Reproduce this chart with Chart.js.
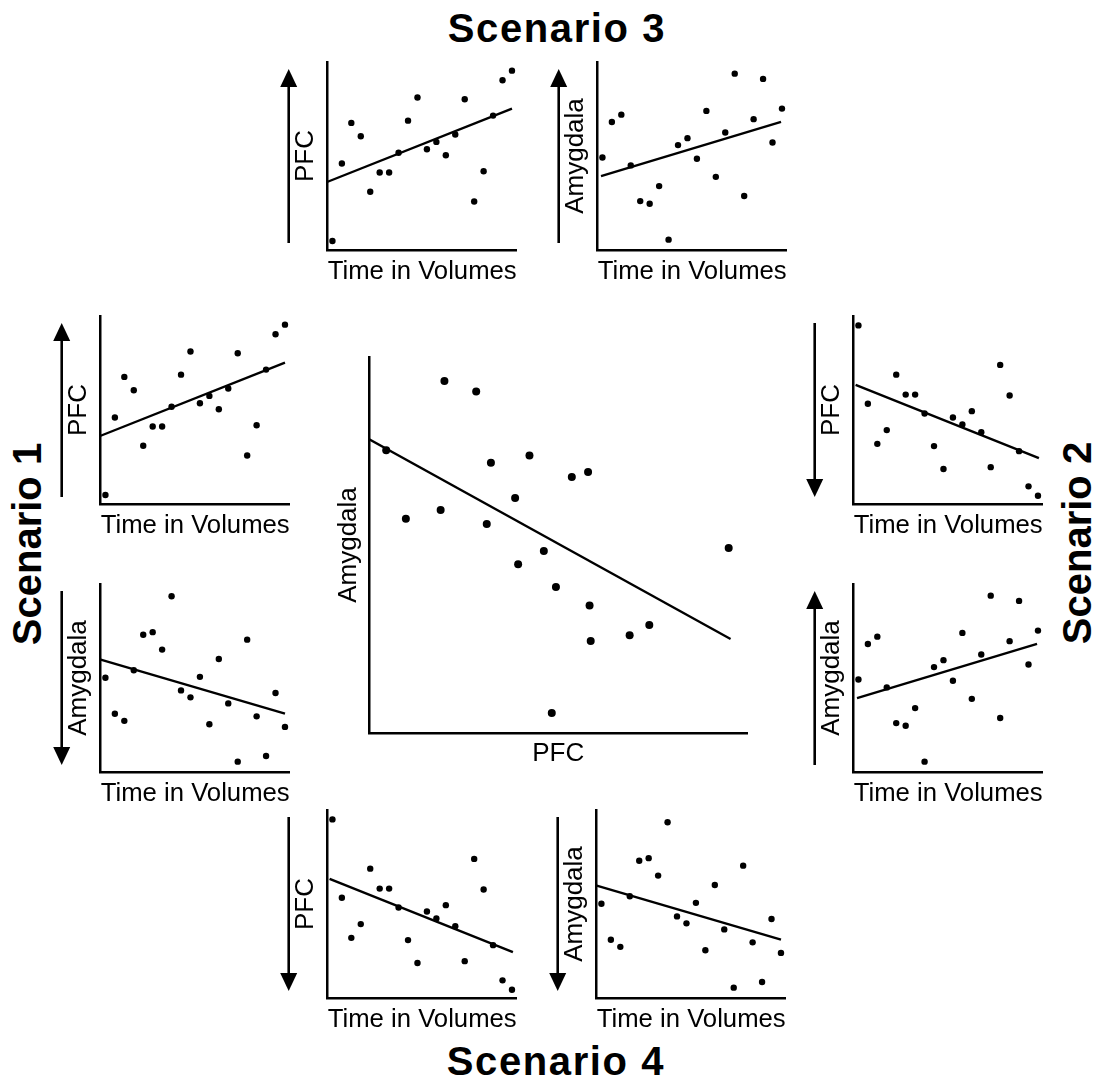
<!DOCTYPE html>
<html lang="en">
<head>
    <meta charset="UTF-8">
    <title>PFC and Amygdala scenarios</title>
    <script src="https://cdn.jsdelivr.net/npm/chart.js"></script>
    <style>
        body {
            margin: 0;
            background: #fff;
            font-family: "Liberation Sans", Arial, sans-serif;
        }
        #stage {
            position: relative;
            width: 1101px;
            height: 1084px;
            overflow: hidden;
        }
        #stage canvas {
            position: absolute;
        }
        .scenario {
            position: absolute;
            font-weight: bold;
            font-size: 40px;
            line-height: 1;
            white-space: nowrap;
            color: #000;
        }
    </style>
</head>
<body>
<div id="stage">
    <div class="scenario" style="left:557px; top:28px; letter-spacing:1.6px; transform:translate(-50%,-50%)">Scenario 3</div>
    <div class="scenario" style="left:556px; top:1061px; letter-spacing:1.6px; transform:translate(-50%,-50%)">Scenario 4</div>
    <div class="scenario" style="left:27px; top:544px; transform:translate(-50%,-50%) rotate(-90deg)">Scenario 1</div>
    <div class="scenario" style="left:1077px; top:543px; transform:translate(-50%,-50%) rotate(-90deg)">Scenario 2</div>
</div>

<script>
    // time axis of the small panels (volume index)
    const volumes = [1, 2, 3, 4, 5, 6, 7, 8, 9, 10, 11, 12, 13, 14, 15, 16, 17, 18, 19, 20];

    // signal values (0-100 scale)
    const pfcRising   = [4.8, 46.0, 67.6, 60.5, 31.0, 41.2, 41.2, 51.7, 68.8, 81.1, 53.6, 57.5, 50.4, 61.4, 80.2, 25.8, 41.9, 71.5, 90.3, 95.4];
    const pfcFalling  = [95.0, 53.3, 32.0, 39.3, 68.8, 58.2, 58.2, 48.1, 30.8, 18.6, 46.0, 42.3, 49.4, 38.2, 19.6, 74.0, 57.7, 28.1, 9.4, 4.4];
    const amyRising   = [49.2, 68.1, 72.0, 45.0, 26.0, 24.6, 34.0, 5.5, 55.8, 59.5, 48.5, 74.0, 38.9, 62.5, 93.8, 28.7, 69.6, 91.0, 57.2, 75.2];
    const amyFalling  = [50.1, 31.0, 27.2, 54.1, 73.0, 74.4, 65.1, 93.5, 43.4, 39.7, 50.6, 25.4, 60.1, 36.5, 5.5, 70.4, 29.6, 8.5, 42.0, 24.0];

    // fitted trend lines, [x, y] at both ends
    const pfcRisingFit  = [[0.5, 36.3], [20.0, 75.2]];
    const pfcFallingFit = [[0.7, 63.4], [20.1, 24.4]];
    const amyRisingFit  = [[0.85, 39.3], [19.9, 68.1]];
    const amyFallingFit = [[0.5, 59.8], [20.0, 31.0]];

    // centre panel: PFC vs Amygdala
    const centrePfc = [4.5, 9.7, 18.9, 19.9, 28.3, 31.1, 32.2, 38.6, 39.4, 42.4, 46.2, 48.3, 49.4, 53.6, 57.9, 58.3, 58.6, 68.9, 74.1, 95.1];
    const centreAmy = [75.2, 57.0, 59.3, 93.6, 90.8, 55.6, 71.9, 62.5, 44.9, 73.8, 48.4, 5.3, 38.8, 68.1, 69.4, 33.9, 24.5, 26.0, 28.7, 49.2];
    const centreFit = [[0, 78.1], [95.6, 25.0]];

    const FONT = '"Liberation Sans", Arial, sans-serif';
    const LABEL_PX = 26;
    const stage = document.getElementById('stage');

    // arrow drawn beside the y axis (up = increasing, down = decreasing)
    const sideArrow = {
        id: 'sideArrow',
        afterDraw(chart, args, opts) {
            if (!opts.dir) return;
            const {ctx, chartArea: {left, top, bottom}} = chart;
            const x = left - 39;
            const headH = 18, headW = 17;
            const y0 = top + 7, y1 = bottom - 7;
            ctx.save();
            ctx.strokeStyle = '#000';
            ctx.fillStyle = '#000';
            ctx.lineWidth = 2.6;
            ctx.beginPath();
            if (opts.dir === 'up') {
                ctx.moveTo(x, y1);
                ctx.lineTo(x, y0 + headH);
            } else {
                ctx.moveTo(x, y0);
                ctx.lineTo(x, y1 - headH);
            }
            ctx.stroke();
            ctx.beginPath();
            if (opts.dir === 'up') {
                ctx.moveTo(x, y0);
                ctx.lineTo(x - headW / 2, y0 + headH);
                ctx.lineTo(x + headW / 2, y0 + headH);
            } else {
                ctx.moveTo(x, y1);
                ctx.lineTo(x - headW / 2, y1 - headH);
                ctx.lineTo(x + headW / 2, y1 - headH);
            }
            ctx.closePath();
            ctx.fill();
            ctx.restore();
        }
    };

    function axis(min, max, label, pad) {
        return {
            type: 'linear', min: min, max: max,
            grid: {display: false, drawTicks: false, tickLength: 0},
            ticks: {display: false},
            border: {display: true, color: '#000', width: 2.5},
            title: {display: true, text: label, color: '#000',
                    font: {size: LABEL_PX, family: FONT, lineHeight: 1.2}, padding: pad}
        };
    }

    function makePanel(p) {
        const gapX = p.gapX, gapY = p.gapY;
        const yAxisW = LABEL_PX * 1.2 + gapY;
        const xAxisH = LABEL_PX * 1.2 + gapX;
        const padL = p.padL, padT = 8, padR = 8, padB = 4;
        const W = Math.round(padL + yAxisW + p.w + padR);
        const H = Math.round(padT + p.h + xAxisH + padB);
        const canvas = document.createElement('canvas');
        canvas.width = W;
        canvas.height = H;
        canvas.style.width = W + 'px';
        canvas.style.height = H + 'px';
        canvas.style.left = (p.ax - yAxisW - padL) + 'px';
        canvas.style.top = (p.by - p.h - padT) + 'px';
        stage.appendChild(canvas);

        const pts = p.xs.map((x, i) => ({x: x, y: p.ys[i]}));
        const fit = p.fit.map(d => ({x: d[0], y: d[1]}));

        new Chart(canvas, {
            type: 'scatter',
            data: {
                datasets: [
                    {data: pts, backgroundColor: '#000', borderWidth: 0, pointRadius: p.r, pointHoverRadius: p.r},
                    {data: fit, showLine: true, borderColor: '#000', borderWidth: 2.4, pointRadius: 0, fill: false}
                ]
            },
            options: {
                responsive: false,
                animation: false,
                events: [],
                layout: {padding: {left: padL, top: padT, right: W - padL - yAxisW - p.w, bottom: H - padT - p.h - xAxisH}},
                plugins: {
                    legend: {display: false},
                    tooltip: {enabled: false},
                    sideArrow: {dir: p.arrow}
                },
                scales: {
                    x: axis(p.xmin, p.xmax, p.xLabel, {top: gapX, bottom: 0}),
                    y: axis(0, 100, p.yLabel, {top: 0, bottom: gapY})
                }
            },
            plugins: [sideArrow]
        });
    }

    const small = {w: 189, h: 188, r: 3.2, xmin: 0.5, xmax: 20.5, xLabel: 'Time in Volumes',
                   gapX: 6.5, gapY: 6.5, padL: 24, xs: volumes};

    // Scenario 3 (top)
    makePanel({...small, ax: 328, by: 250, yLabel: 'PFC', ys: pfcRising, fit: pfcRisingFit, arrow: 'up'});
    makePanel({...small, ax: 598, by: 250, yLabel: 'Amygdala', ys: amyRising, fit: amyRisingFit, arrow: 'up'});
    // Scenario 1 (left)
    makePanel({...small, ax: 101, by: 504, yLabel: 'PFC', ys: pfcRising, fit: pfcRisingFit, arrow: 'up'});
    makePanel({...small, ax: 101, by: 772, yLabel: 'Amygdala', ys: amyFalling, fit: amyFallingFit, arrow: 'down'});
    // Scenario 2 (right)
    makePanel({...small, ax: 854, by: 504, yLabel: 'PFC', ys: pfcFalling, fit: pfcFallingFit, arrow: 'down'});
    makePanel({...small, ax: 854, by: 772, yLabel: 'Amygdala', ys: amyRising, fit: amyRisingFit, arrow: 'up'});
    // Scenario 4 (bottom)
    makePanel({...small, ax: 328, by: 998, yLabel: 'PFC', ys: pfcFalling, fit: pfcFallingFit, arrow: 'down'});
    makePanel({...small, ax: 597, by: 998, yLabel: 'Amygdala', ys: amyFalling, fit: amyFallingFit, arrow: 'down'});

    // centre panel
    makePanel({w: 378, h: 376, r: 4, xmin: 0, xmax: 100, xLabel: 'PFC', yLabel: 'Amygdala',
               gapX: 5, gapY: 5, padL: 6, ax: 369, by: 733,
               xs: centrePfc, ys: centreAmy, fit: centreFit, arrow: null});
</script>
</body>
</html>
